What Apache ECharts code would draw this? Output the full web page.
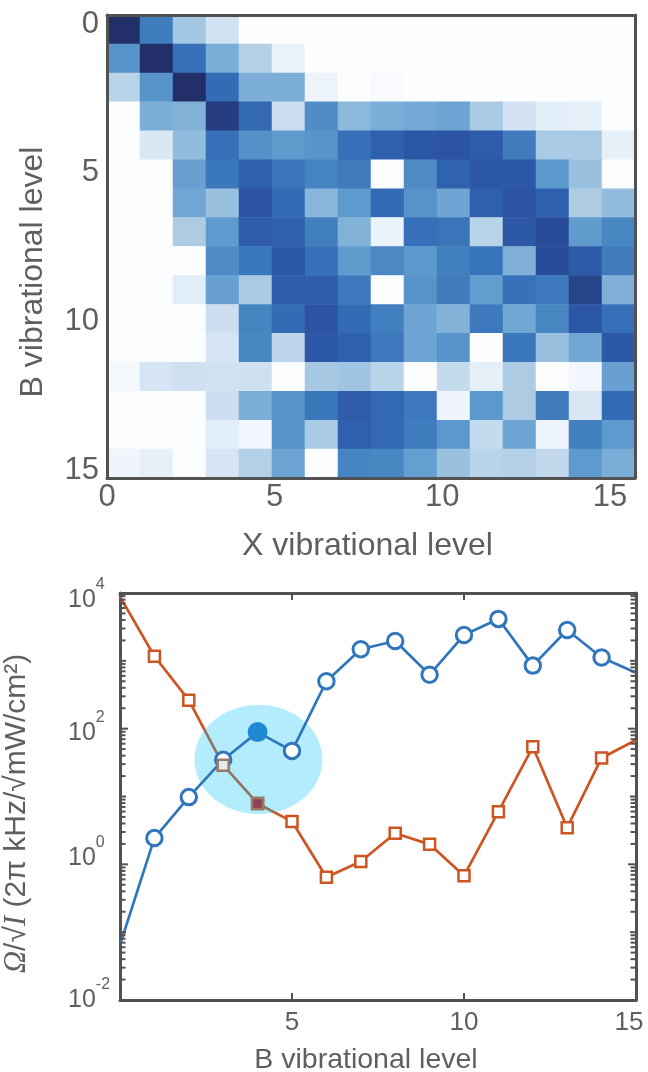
<!DOCTYPE html>
<html><head><meta charset="utf-8">
<style>html,body{margin:0;padding:0;background:#fff}#c{width:648px;height:1072px}</style>
<script src="https://cdn.jsdelivr.net/npm/echarts@6/dist/echarts.min.js"></script>
</head><body><div id="c"></div>
<script>
const xCells = ['0','1','2','3','4','5','6','7','8','9','10','11','12','13','14','15'];
const yCells = xCells;
const row0  = [10,7.3,3.5,1.9,0,0,0,0,0,0,0,0,0,0,0,0];
const row1  = [6.2,10,8,4.8,3,0.8,0,0,0,0,0,0,0,0,0,0];
const row2  = [2.8,6.2,10,8.2,4.7,4.8,0.7,0,0.2,0,0,0,0,0,0,0];
const row3  = [0,4.7,4.5,9.8,8.3,2.2,6.5,4.2,4.8,5,5.3,3.3,1.8,1.2,1,0];
const row4  = [0,1.5,4,8,6.3,5.8,6.2,8,8.8,9.3,9.4,9,7.4,3.3,3.3,1];
const row5  = [0,0,5.5,7.6,8.8,7.7,7,7.4,0,6.5,8.6,9.3,9.2,6,3.8,0];
const row6  = [0,0,5.1,3.8,9.4,8.2,4.3,5.9,8.2,6.2,5.2,8.8,9.5,8.8,3.2,4];
const row7  = [0,0,3.2,5.9,9,8.7,7.2,4.5,0.8,8,7.7,2.8,9.2,9.6,5.8,6.8];
const row8  = [0,0,0,6.6,7.6,9.2,8,5.8,6.7,6,7.2,7.8,4.6,9.6,9.1,7.4];
const row9  = [0,0,1.2,5.5,3.3,9,8.9,7.5,0,6.2,7.4,5.7,7.9,7.5,9.7,4.6];
const row10 = [0,0,0,2.1,7,8.2,9.4,8.2,7.2,5.2,4.5,7.5,5.1,6.8,9.3,8];
const row11 = [0,0,0,1.7,6.8,2.6,9.2,8.8,7.5,5.3,6.2,0,7.6,3.8,5.1,9.2];
const row12 = [0.3,1.7,2,1.9,2,0,3.4,3.6,2.8,0,2.4,1,3.2,0,0.4,5.5];
const row13 = [0,0,0,2.1,4.8,6.2,7.6,9,8.3,7.5,0.7,6,3.2,7.4,1.6,8.2];
const row14 = [0,0.1,0,1.2,0.5,6.2,3.3,8.8,8.3,7.3,6,2.4,5.3,0.7,7.2,5.9];
const row15 = [0.6,1,0,1.7,3,5.3,0,6.9,6.8,5.6,3.8,2.8,3,2.5,5.9,4.8];
const rows = [row0,row1,row2,row3,row4,row5,row6,row7,row8,row9,row10,row11,row12,row13,row14,row15];

const bLevels = [0,1,2,3,4,5,6,7,8,9,10,11,12,13,14,15];
const blueVals = [0.065,2.44,9.8,34.9,89,47,500,1480,1960,624,2400,4150,850,2850,1120,668];
const orangeVals = [8850,1170,263,29,7.9,4.27,0.645,1.1,2.87,1.97,0.68,5.97,54,3.47,37,68];
const highlightX = [2.165,5.887];
const highlightY = [223,5.5];
const logMajor = [0.01,1,100,10000];
const logMid = [0.1,10,1000];
const logMinor = [];
[0.01,0.1,1,10,100,1000].forEach(d=>{[2,3,4,5,6,7,8,9].forEach(m=>{logMinor.push(+(d*m).toPrecision(3));});});
// where the reference prints its power-of-ten labels (they sit a little off their ticks)
const labelAnchors = [0.01,1.24,86.3,7890];

const ink = '#525252', txt = '#5f5f5f', font = 'Liberation Sans';
const blueLine = '#2f76bd', orangeLine = '#cc5522';
const pow = v => { const e = 2*Math.round(Math.log10(v)/2); return '{b|10}{s|'+e+'}'; };

const heatData = [];
rows.forEach((r,j)=>r.forEach((v,i)=>heatData.push([i,j,v])));
const tickData = [];
logMajor.forEach(v=>tickData.push([v,8]));
logMid.forEach(v=>tickData.push([v,6]));
logMinor.forEach(v=>tickData.push([v,5.5]));

const hiddenValue = (extra) => Object.assign({type:'value',axisLabel:{show:false},splitLine:{show:false},axisTick:{show:false},axisLine:{show:false}},extra);
const frame = {show:true,onZero:false,lineStyle:{color:ink,width:3}};
const endless = i => i===0 || i===bLevels.length-1;

const chart = echarts.init(document.getElementById('c'),null,{renderer:'canvas'});
chart.setOption({
  animation:false,
  backgroundColor:'#fff',
  grid:[
    {left:107,top:15,width:528,height:463,outerBoundsMode:'none'},
    {left:107,top:24,width:503,height:446,outerBoundsMode:'none'},
    {left:120,top:593,width:516,height:407,outerBoundsMode:'none'}
  ],
  visualMap:{show:false,seriesIndex:0,min:0,max:10,dimension:2,
    inRange:{color:['#fcfdff','#f1f6fc','#e6f0f9','#dae8f5','#cfe0f1','#c1d8ec','#b3d0e6','#a3c6e2','#92bcdd','#83b2d9','#74a9d6','#67a0d1','#5b98cc','#508dc6','#4583c1','#3d79bc','#3570b8','#3165b0','#2e5cab','#2a53a2','#222f69']}},
  xAxis:[
    {gridIndex:0,type:'category',data:xCells,axisLabel:{show:false},axisTick:{show:false},splitLine:{show:false},axisLine:frame,position:'bottom',z:5},
    hiddenValue({gridIndex:0,min:0,max:1,position:'top',axisLine:frame,z:5}),
    hiddenValue({gridIndex:1,min:0,max:15,interval:5,position:'bottom',offset:8,
      axisLabel:{show:true,fontFamily:font,fontSize:31,color:txt,margin:4},
      name:'X vibrational level',nameLocation:'middle',nameGap:52,
      nameTextStyle:{fontFamily:font,fontSize:32,color:txt,padding:[0,0,0,18]}}),
    {gridIndex:2,type:'value',min:0,max:15,interval:5,position:'bottom',
      axisLine:frame,splitLine:{show:false},
      axisTick:{show:true,inside:true,length:7,lineStyle:{color:ink,width:2}},
      axisLabel:{fontFamily:font,fontSize:26,color:txt,margin:10,showMinLabel:false,showMaxLabel:true,
        formatter:v=> v===15 ? '{e|15}' : String(v),
        rich:{e:{fontFamily:font,fontSize:26,color:txt,padding:[0,14,0,0]}}},
      name:'B vibrational level',nameLocation:'middle',nameGap:46,
      nameTextStyle:{fontFamily:font,fontSize:28.5,color:txt,padding:[0,24,0,0]}},
    {gridIndex:2,type:'value',min:0,max:15,interval:5,position:'top',
      axisLine:frame,splitLine:{show:false},
      axisTick:{show:true,inside:true,length:7,lineStyle:{color:ink,width:2}},
      axisLabel:{show:false}}
  ],
  yAxis:[
    {gridIndex:0,type:'category',inverse:true,data:yCells,axisLabel:{show:false},axisTick:{show:false},splitLine:{show:false},axisLine:frame,position:'left',z:5},
    hiddenValue({gridIndex:0,min:0,max:1,position:'right',axisLine:frame,z:5}),
    hiddenValue({gridIndex:1,min:0,max:15,interval:5,inverse:true,position:'left',
      axisLabel:{show:true,fontFamily:font,fontSize:31,color:txt,margin:8},
      name:'B vibrational level',nameLocation:'middle',nameGap:58,
      nameTextStyle:{fontFamily:font,fontSize:32,color:txt,padding:[0,50,0,0]}}),
    {gridIndex:2,type:'log',logBase:10,min:0.01,max:10000,position:'left',
      axisLine:frame,splitLine:{show:false},axisTick:{show:false},
      axisLabel:{margin:52,align:'left',customValues:labelAnchors,formatter:pow,
        rich:{b:{fontFamily:font,fontSize:25,color:txt},
              s:{fontFamily:font,fontSize:16,color:txt,verticalAlign:'bottom',padding:[0,0,20,0],lineHeight:16}}},
      name:'{i|Ω}{t|/√}{i|I}{t| (2π kHz/√mW/cm²)}',nameLocation:'middle',nameGap:88,
      nameTextStyle:{padding:[0,34,0,0],rich:{i:{fontFamily:'Liberation Serif',fontStyle:'italic',fontSize:31,color:txt},
        t:{fontFamily:font,fontSize:30,color:txt}}}},
    {gridIndex:2,type:'log',logBase:10,min:0.01,max:10000,position:'right',
      axisLine:frame,splitLine:{show:false},axisLabel:{show:false},axisTick:{show:false}}
  ],
  series:[
    {type:'heatmap',xAxisIndex:0,yAxisIndex:0,data:heatData,itemStyle:{borderWidth:0},progressive:0,z:1},
    {type:'line',name:'orange',xAxisIndex:3,yAxisIndex:3,z:3,
      data:bLevels.map((x,i)=> endless(i) ? {value:[x,orangeVals[i]],symbol:'none'} : [x,orangeVals[i]]),
      symbol:'rect',symbolSize:11,showAllSymbol:true,
      lineStyle:{color:orangeLine,width:2.7},
      itemStyle:{color:'#fff',borderColor:orangeLine,borderWidth:2.5}},
    {type:'custom',name:'highlight',xAxisIndex:3,yAxisIndex:3,z:4,clip:false,
      data:[[highlightX[0],highlightY[0],highlightX[1],highlightY[1]]],
      encode:{x:[0,2],y:[1,3]},
      renderItem:(p,api)=>{
        const a=api.coord([api.value(0),api.value(1)]), b=api.coord([api.value(2),api.value(3)]);
        return {type:'ellipse',shape:{cx:(a[0]+b[0])/2,cy:(a[1]+b[1])/2,rx:(b[0]-a[0])/2,ry:(b[1]-a[1])/2},
          style:{fill:'rgba(2,195,248,0.3)'}};
      }},
    {type:'line',name:'blue',xAxisIndex:3,yAxisIndex:3,z:6,
      data:bLevels.map((x,i)=> endless(i) ? {value:[x,blueVals[i]],symbol:'none'} : (i===4 ? {value:[x,blueVals[i]],symbolSize:17,itemStyle:{color:'#2089d4',borderColor:'#2089d4'}} : [x,blueVals[i]])),
      symbol:'circle',symbolSize:15.5,showAllSymbol:true,
      lineStyle:{color:blueLine,width:2.7},
      itemStyle:{color:'#fff',borderColor:blueLine,borderWidth:3}},
    {type:'line',name:'highlightSquares',xAxisIndex:3,yAxisIndex:3,z:7,
      data:[[bLevels[3],orangeVals[3]],{value:[bLevels[4],orangeVals[4]],itemStyle:{color:'#8f3f55',borderColor:'#9a7a66',borderWidth:2.5}}],
      symbol:'rect',symbolSize:11,lineStyle:{opacity:0},
      itemStyle:{color:'#e4ecea',borderColor:'#9a7a66',borderWidth:2.5}},
    {type:'custom',name:'logTicks',xAxisIndex:3,yAxisIndex:3,z:8,clip:false,
      data:tickData.map(t=>[0,t[0],t[1]]),
      encode:{y:1},
      renderItem:(p,api)=>{
        const a=api.coord([bLevels[0],api.value(1)]), b=api.coord([bLevels[15],api.value(1)]), n=api.value(2);
        const st={stroke:ink,lineWidth:2};
        return {type:'group',children:[
          {type:'line',shape:{x1:a[0],y1:a[1],x2:a[0]+n,y2:a[1]},style:st},
          {type:'line',shape:{x1:b[0],y1:b[1],x2:b[0]-n,y2:b[1]},style:st}]};
      }}
  ]
});
</script></body></html>
